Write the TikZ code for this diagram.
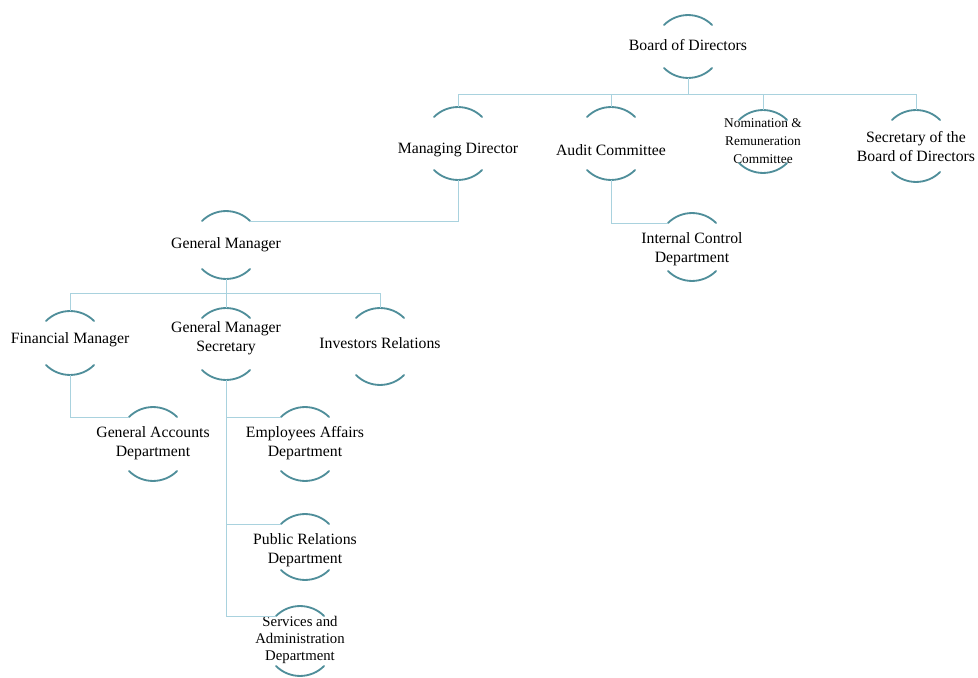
\documentclass[tikz,border=0pt]{standalone}
\usepackage{fontspec}
\setmainfont{Liberation Serif}
\definecolor{linhaazul}{HTML}{A9D2DE}
\definecolor{arcoazul}{HTML}{4F8E9A}

% arcs above and below a post: node, y of top apex, y of bottom apex
\newcommand{\arcos}[3]{%
  \coordinate (#1-t) at (#1 |- 0,#2);
  \coordinate (#1-b) at (#1 |- 0,#3);
  \coordinate (#1-tl) at ([shift={(-6mm,-2.5mm)}]#1-t);
  \coordinate (#1-tr) at ([shift={(6mm,-2.5mm)}]#1-t);
  \draw[arco] (#1-tl) arc[start angle=135, end angle=45, radius=8.5mm];
  \draw[arco] ([shift={(-6mm,2.5mm)}]#1-b) arc[start angle=225, end angle=315, radius=8.5mm];
}

\begin{document}
\begin{tikzpicture}[x=0.25mm, y=-0.25mm,
    cargo/.style={align=center, inner sep=0pt, font=\fontsize{11.2}{13.5}\selectfont},
    cargop/.style={cargo, font=\fontsize{9.5}{13}\selectfont},
    linha/.style={draw=linhaazul, line width=0.6pt},
    arco/.style={draw=arcoazul, line width=1.3pt, line cap=round}]

\useasboundingbox (0,0) rectangle (978,678);
\fill[white] (0,0) rectangle (978,678);

% Board
\node[cargo] (board) at (688,45) {Board of Directors};
\arcos{board}{15}{78}

% Second level
\node[cargo] (md) at (458,150) {Managing Director};
\arcos{md}{107}{180}
\node[cargo] (ac) at (611,150) {Audit Committee};
\arcos{ac}{107}{180}
\node[cargop] (nr) at (763,141) {Nomination \&\\Remuneration\\Committee};
\arcos{nr}{110}{173}
\node[cargo] (sec) at (916,147) {Secretary of the\\Board of Directors};
\arcos{sec}{110}{182}

\coordinate (bus1) at (0,94);
\draw[linha] (board-b) -- (board-b |- bus1);
\draw[linha] (md-t) -- (md-t |- bus1) -- (sec-t |- bus1) -- (sec-t);
\draw[linha] (ac-t) -- (ac-t |- bus1);
\draw[linha] (nr-t) -- (nr-t |- bus1);

% Under managing director and audit committee
\node[cargo] (gm) at (226,245) {General Manager};
\arcos{gm}{211}{279}
\node[cargo] (ic) at (692,249) {Internal Control\\Department};
\arcos{ic}{213}{281}
\draw[linha] (md-b) |- (gm-tr);
\draw[linha] (ac-b) |- (ic-tl);

% Under general manager
\node[cargo] (fm) at (70,340) {Financial Manager};
\arcos{fm}{311}{375}
\node[cargo] (gms) at (226,338) {General Manager\\Secretary};
\arcos{gms}{308}{380}
\node[cargo] (ir) at (380,343) {Investors Relations};
\arcos{ir}{308}{385}

\coordinate (bus2) at (0,293);
\draw[linha] (gm-b) -- (gm-b |- bus2);
\draw[linha] (fm-t) -- (fm-t |- bus2) -- (ir-t |- bus2) -- (ir-t);
\draw[linha] (gms-t) -- (gms-t |- bus2);

% Departments
\node[cargo] (ga) at (153,443) {General Accounts\\Department};
\arcos{ga}{407}{481}
\node[cargo] (ea) at (305,443) {Employees Affairs\\Department};
\arcos{ea}{407}{481}
\node[cargo] (pr) at (305,550) {Public Relations\\Department};
\arcos{pr}{514}{580}
\node[cargo, font=\fontsize{10.5}{12}\selectfont] (sa) at (300,640) {Services and\\Administration\\Department};
\arcos{sa}{606}{676}

\draw[linha] (fm-b) |- (ga-tl);
\draw[linha] (gms-b) |- (ea-tl);
\draw[linha] (gms-b) |- (pr-tl);
\draw[linha] (gms-b) |- (sa-tl);

\end{tikzpicture}
\end{document}
